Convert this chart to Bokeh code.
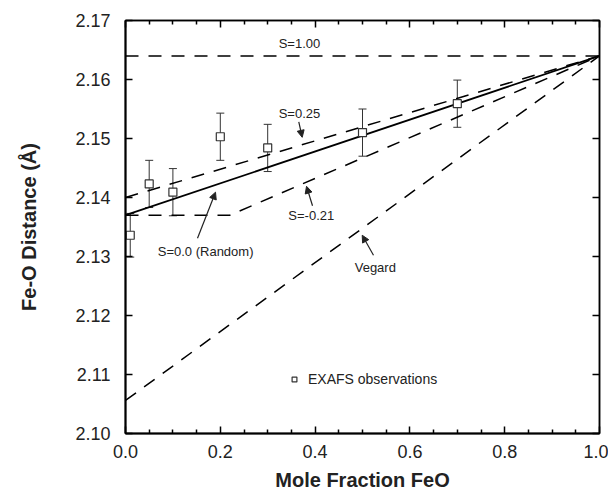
from bokeh.plotting import figure
from bokeh.models import (LinearAxis, FixedTicker, PrintfTickFormatter, CustomJSTickFormatter,
                          Whisker, TeeHead, ColumnDataSource, Arrow, NormalHead, Legend, LegendItem)
from bokeh.core.properties import value
from bokeh.embed import file_html
from bokeh.resources import INLINE

# ---- data ----
feo = [0.01, 0.05, 0.10, 0.20, 0.30, 0.50, 0.70]
dist = [2.1336, 2.1423, 2.1409, 2.1503, 2.1484, 2.1510, 2.1559]
err = [0.0037, 0.0040, 0.0040, 0.0040, 0.0040, 0.0040, 0.0040]

line_x = [0.0, 1.0]
s_100 = [2.164, 2.164]
s_025 = [2.140, 2.164]
s_000 = [2.137, 2.164]
vegard = [2.1056, 2.164]
s_m021_x = [0.0, 0.22, 1.0]
s_m021_y = [2.137, 2.137, 2.164]

x_major = [0.0, 0.2, 0.4, 0.6, 0.8, 1.0]
x_minor = [0.05, 0.1, 0.15, 0.25, 0.3, 0.35, 0.45, 0.5, 0.55, 0.65, 0.7, 0.75, 0.85, 0.9, 0.95]
y_major = [2.10, 2.11, 2.12, 2.13, 2.14, 2.15, 2.16, 2.17]

label_text = ["S=1.00", "S=0.25", "S=-0.21", "S=0.0 (Random)", "Vegard"]
label_x = [0.367, 0.367, 0.392, 0.169, 0.527]
label_y = [2.1661, 2.1542, 2.1370, 2.1309, 2.1281]

arrow_x0 = [0.3656, 0.3945, 0.1519, 0.5232]
arrow_y0 = [2.1528, 2.1386, 2.1331, 2.1302]
arrow_x1 = [0.3728, 0.3819, 0.1899, 0.4994]
arrow_y1 = [2.1502, 2.1419, 2.1409, 2.1336]

FONT = "Liberation Sans"

p = figure(width=608, height=495, x_range=(0, 1), y_range=(2.10, 2.17),
           output_backend="svg", toolbar_location=None,
           min_border_left=125, min_border_right=9, min_border_top=20, min_border_bottom=62,
           x_axis_label="Mole Fraction FeO", y_axis_label="Fe-O Distance (Å)")
p.xgrid.visible = False
p.ygrid.visible = False
p.outline_line_color = "black"
p.outline_line_width = 1.5

xa = p.xaxis[0]
xa.ticker = FixedTicker(ticks=x_major, minor_ticks=x_minor)
xa.formatter = PrintfTickFormatter(format="%.1f")
ya = p.yaxis[0]
ya.ticker = FixedTicker(ticks=y_major)
ya.formatter = PrintfTickFormatter(format="%.2f")
for ax in (xa, ya):
    ax.axis_line_width = 2
    ax.axis_line_color = "black"
    ax.major_tick_in = 7
    ax.major_tick_out = 0
    ax.minor_tick_in = 4
    ax.minor_tick_out = 0
    ax.major_tick_line_width = 1.5
    ax.minor_tick_line_width = 1.5
    ax.major_label_text_font = FONT
    ax.major_label_text_font_size = "18px"
    ax.major_label_text_color = "#222222"
    ax.axis_label_text_font = FONT
    ax.axis_label_text_font_style = "bold"
    ax.axis_label_text_font_size = "20px"
    ax.axis_label_text_color = "#222222"
xa.major_label_standoff = 11
xa.axis_label_standoff = 8
ya.major_label_standoff = 15
ya.axis_label_standoff = 32

blank = CustomJSTickFormatter(code="return '';")
top = LinearAxis(ticker=FixedTicker(ticks=x_major, minor_ticks=x_minor), formatter=blank,
                 major_tick_in=7, major_tick_out=0,
                 minor_tick_in=4, minor_tick_out=0, axis_line_width=1.5,
                 major_tick_line_width=1.5, minor_tick_line_width=1.5, major_label_standoff=0)
p.add_layout(top, "above")
right = LinearAxis(ticker=FixedTicker(ticks=y_major), formatter=blank,
                   major_tick_in=7, major_tick_out=0,
                   minor_tick_in=0, minor_tick_out=0, axis_line_width=1.5,
                   major_tick_line_width=1.5, major_label_standoff=0)
p.add_layout(right, "right")

# model lines
dash = "13 10"
p.line(line_x, s_100, line_color="black", line_width=1.5, line_dash=dash)
p.line(line_x, s_025, line_color="black", line_width=1.5, line_dash=dash)
p.line(line_x, vegard, line_color="black", line_width=1.5, line_dash=dash)
p.line(s_m021_x, s_m021_y, line_color="black", line_width=1.5, line_dash=dash)
p.line(line_x, s_000, line_color="black", line_width=1.8)

# error bars
upper = [d + e for d, e in zip(dist, err)]
lower = [d - e for d, e in zip(dist, err)]
src = ColumnDataSource(data=dict(x=feo, y=dist, upper=upper, lower=lower))
wk = Whisker(base="x", upper="upper", lower="lower", source=src,
             line_color="#333333", line_width=1,
             upper_head=TeeHead(size=8, line_color="#333333", line_width=1),
             lower_head=TeeHead(size=8, line_color="#333333", line_width=1))
p.add_layout(wk)
pts = p.scatter("x", "y", source=src, marker="square", size=8,
                fill_color="white", line_color="#333333", line_width=1.2)

# annotations
p.text(x=label_x, y=label_y, text=label_text, text_font=value(FONT),
       text_font_size="13px", text_align="center", text_baseline="middle",
       text_color="#222222")
for xs, ys, xe, ye in zip(arrow_x0, arrow_y0, arrow_x1, arrow_y1):
    p.add_layout(Arrow(x_start=xs, y_start=ys, x_end=xe, y_end=ye,
                       line_color="#222222", line_width=1.2,
                       end=NormalHead(size=7, fill_color="#222222", line_color="#222222")))

legend = Legend(items=[LegendItem(label="EXAFS observations", renderers=[pts])],
                location=(163, 44), border_line_color=None, background_fill_alpha=0,
                margin=0, padding=0, glyph_width=12, glyph_height=20, label_height=20,
                label_standoff=8, label_text_font=FONT, label_text_font_size="14px",
                label_text_color="#222222")
p.add_layout(legend, "center")

open("out.html", "w").write(file_html(p, INLINE))
